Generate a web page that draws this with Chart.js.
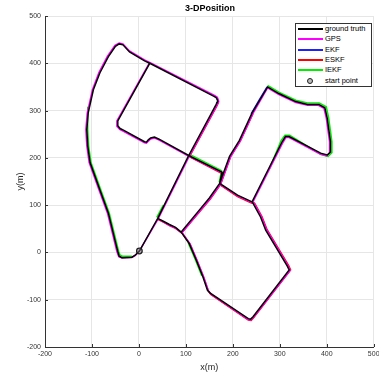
<!DOCTYPE html>
<html><head><meta charset="utf-8">
<script src="https://cdn.jsdelivr.net/npm/chart.js@4"></script>
<style>
html,body{margin:0;padding:0;background:#fff;}
#wrap{position:relative;width:379px;height:378px;font-family:"Liberation Sans",Arial,sans-serif;}
#c{position:absolute;left:0;top:0;}
#title{position:absolute;left:45px;width:330px;top:3px;text-align:center;font-weight:bold;font-size:9px;line-height:11px;color:#000;}
#legend{position:absolute;left:295px;top:23px;width:77px;height:64px;box-sizing:border-box;border:1px solid #333;background:#fff;}
.row{position:absolute;left:0;width:74px;height:10px;font-size:7.5px;line-height:10px;color:#000;white-space:nowrap;}
.sw{position:absolute;left:2px;top:4px;width:25px;height:2px;}
.dot{position:absolute;left:11px;top:2px;width:4px;height:4px;border:1.3px solid #222;border-radius:50%;background:rgba(120,120,120,0.5);}
.lab{position:absolute;left:29px;top:0;}
</style></head>
<body><div id="wrap"><canvas id="c" width="379" height="378"></canvas><div id="title">3-DPosition</div><div id="legend"></div></div>
<script>
// ---- data (metres) ----
const seriesLabels = ['ground truth','GPS','EKF','ESKF','IEKF','start point'];
const seriesColors = ['#000000','#ff00ff','#2020ff','#ff0000','#00ee00','#222222'];
const xTicks = [-200,-100,0,100,200,300,400,500];
const yTicks = [-200,-100,0,100,200,300,400,500];

const gtX = [23,-45,-45,-40,-32,12,16,20,25,33,42,106,164,168,165,160,23,12,-20,-34,-42,-50,-65,-83,-97,-108,-111,-109,-104,-83,-65,-48,-45,-42,-36,-15,-8,1,40,52,65,78,90,null,40,106,177,172,210,241,305,312,320,387,401,408,408,401,396,383,359,334,298,274,241,214,193,180,172,150,129,90,107,122,136,146,152,233,238,243,320,316,270,259,244,241];
const gtY = [400,278,268,262,258,234,233,238,242,244,240,205,312,320,327,330,400,405,424,439,441,436,414,380,344,295,260,225,190,132,83,14,2,-8,-11,-10,-6,3,72,66,59,53,43,null,72,205,170,146,121,107,234,245,245,210,206,212,234,284,306,313,313,319,336,350,295,237,203,168,146,115,90,43,19,-16,-51,-80,-86,-140,-141,-136,-37,-29,47,75,102,107];

const gpsX = [23,-47,-47,-41,-33,12,16,21,25,33,42,107,166,170,167,161,23,12,-20,-34,-42,-51,-67,-85,-99,-110,-113,-111,-106,-85,-67,-50,-47,-43,-36,-15,-8,1,41,53,66,79,91,null,41,107,178,173,211,242,307,313,320,386,400,406,406,399,394,382,359,334,298,274,243,216,195,182,174,152,131,92,109,124,138,148,153,233,238,244,322,318,272,261,246,242];
const gpsY = [402,278,267,260,256,232,231,236,240,242,238,203,311,320,328,332,402,407,426,441,443,438,415,381,344,295,260,225,190,132,83,14,2,-9,-12,-11,-7,3,71,64,57,51,41,null,71,203,168,144,119,105,233,243,243,208,204,211,234,284,305,311,311,317,334,348,294,236,202,167,145,114,89,42,18,-17,-52,-81,-88,-142,-143,-137,-38,-29,48,76,103,105];

const ekfX = [165,169,166,null,239,256,273];
const ekfY = [315,321,327,null,293,322,350];

const eskfX = [108,166,170,null,108,177,173,210,241,null,40,52,65,78,91,131,152,174,182,195,216,243,null,92,109,124,138,148,153,233,239,245,323,319,273,262,247,243];
const eskfY = [203,310,319,null,202,167,143,118,104,null,70,64,57,51,41,88,113,144,166,202,236,294,null,41,17,-18,-53,-82,-89,-143,-144,-137,-37,-28,48,76,103,107];

const iekfX = [-109,-109,-107,-102,-81,-63,-46,-43,-40,-35,-15,null,38,52,null,107,176,171,null,277,303,311,321,388,403,411,411,404,399,384,359,334,298,274,null,105,120,134];
const iekfY = [308,260,225,190,132,83,14,2,-6,-8,-8,null,74,100,null,208,173,148,null,175,237,248,248,207,203,211,234,285,308,316,316,322,339,353,null,20,-15,-50];

const startX = [1];
const startY = [3];

function pts(xs, ys){ return xs.map((x,i)=>({x:x, y:ys[i]})); }

const FAMILY = '"Liberation Sans", Arial, sans-serif';

const inTicks = {
  id:'inTicks',
  afterDraw(chart){
    const {ctx, chartArea:a, scales:{x,y}} = chart;
    ctx.save(); ctx.strokeStyle='#333'; ctx.lineWidth=1; ctx.beginPath();
    x.ticks.forEach(t=>{const p=Math.round(x.getPixelForValue(t.value))+0.5; ctx.moveTo(p,a.bottom); ctx.lineTo(p,a.bottom-3);});
    y.ticks.forEach(t=>{const p=Math.round(y.getPixelForValue(t.value))+0.5; ctx.moveTo(a.left,p); ctx.lineTo(a.left+3,p);});
    ctx.stroke(); ctx.restore();
  }
};

function lineDs(i, xs, ys, order){
  return {label:seriesLabels[i], data:pts(xs,ys), showLine:true, borderColor:seriesColors[i], backgroundColor:seriesColors[i],
    borderWidth:1.5, pointRadius:0, pointHoverRadius:0, spanGaps:false, order:order, tension:0};
}

new Chart(document.getElementById('c'), {
  type:'scatter',
  data:{ datasets:[
    lineDs(0, gtX, gtY, 0),
    lineDs(1, gpsX, gpsY, 1),
    lineDs(2, ekfX, ekfY, 2),
    lineDs(3, eskfX, eskfY, 3),
    lineDs(4, iekfX, iekfY, 4),
    {label:seriesLabels[5], data:pts(startX,startY), showLine:false, pointStyle:'circle', pointRadius:2.8,
     borderColor:'#222', backgroundColor:'rgba(120,120,120,0.5)', borderWidth:1.3, order:-1}
  ]},
  options:{
    responsive:false, animation:false, devicePixelRatio:1,
    layout:{padding:{top:16,right:4,left:0,bottom:0}},
    plugins:{legend:{display:false}, title:{display:false}, tooltip:{enabled:false}},
    scales:{
      x:{type:'linear', min:-200, max:500,
        afterBuildTicks(s){ s.ticks = xTicks.map(v=>({value:v})); },
        ticks:{color:'#333', font:{size:7, family:FAMILY}, padding:3, maxRotation:0, autoSkip:false},
        grid:{color:'#e6e6e6', drawTicks:false},
        border:{color:'#333', width:1},
        title:{display:true, text:'x(m)', color:'#222', font:{size:9, family:FAMILY}, padding:{top:0,bottom:5}},
        afterFit(s){ s.height=31; s.paddingLeft=0; s.paddingRight=0; }
      },
      y:{type:'linear', min:-200, max:500,
        afterBuildTicks(s){ s.ticks = yTicks.map(v=>({value:v})); },
        ticks:{color:'#333', font:{size:7, family:FAMILY}, padding:4, autoSkip:false},
        grid:{color:'#e6e6e6', drawTicks:false},
        border:{color:'#333', width:1},
        title:{display:true, text:'y(m)', color:'#222', font:{size:9, family:FAMILY}, padding:{top:15,bottom:0}},
        afterFit(s){ s.width=45; s.paddingTop=0; s.paddingBottom=0; }
      }
    }
  },
  plugins:[inTicks]
});

// HTML legend built from the series labels/colours
const leg = document.getElementById('legend');
seriesLabels.forEach((lab,i)=>{
  const r = document.createElement('div'); r.className='row'; r.style.top=(i*10.3)+'px';
  const sw = document.createElement('span');
  if (i===5) { sw.className='dot'; } else { sw.className='sw'; sw.style.background=seriesColors[i]; }
  const t = document.createElement('span'); t.className='lab'; t.textContent=lab;
  r.appendChild(sw); r.appendChild(t); leg.appendChild(r);
});
</script>
</body></html>
